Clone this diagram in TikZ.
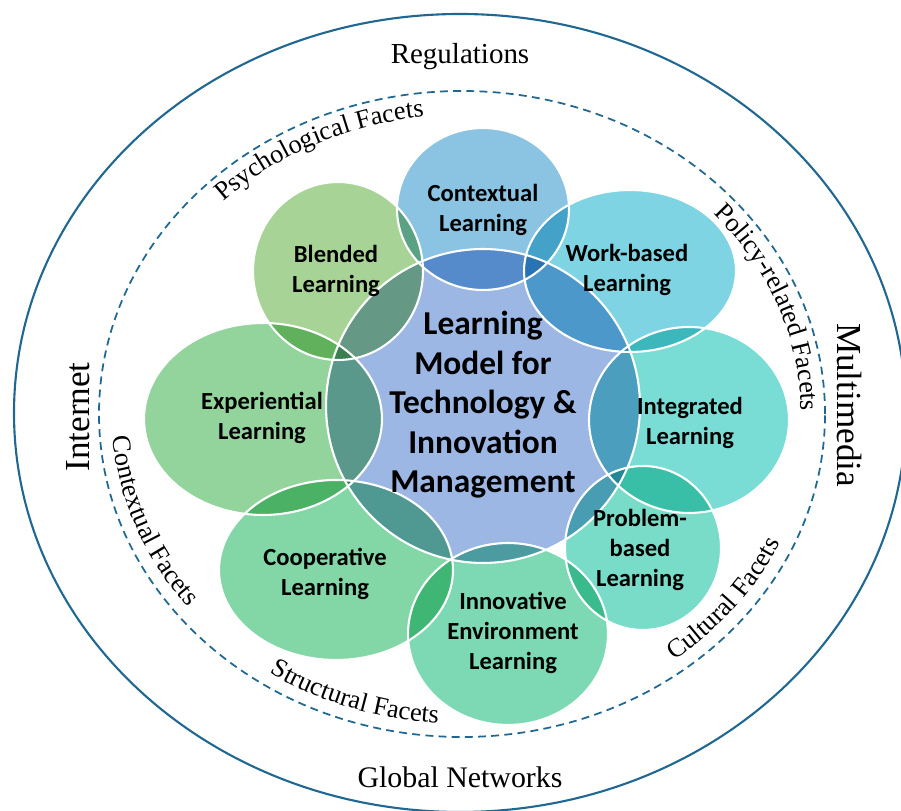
\documentclass[tikz,border=0pt]{standalone}
\usepackage{fontspec}
\setmainfont{Liberation Serif}
\newfontfamily\petalfont{Carlito}
\usepackage{tikz}
\usetikzlibrary{shapes.geometric,calc,decorations.text}

\definecolor{ringblue}{RGB}{32,104,146}
\definecolor{corecol}{RGB}{157,183,228}
\definecolor{contextcol}{RGB}{139,195,226}
\definecolor{workcol}{RGB}{126,212,226}
\definecolor{integcol}{RGB}{122,221,213}
\definecolor{problemcol}{RGB}{120,220,200}
\definecolor{innovcol}{RGB}{124,217,180}
\definecolor{coopcol}{RGB}{131,214,165}
\definecolor{expercol}{RGB}{147,212,157}
\definecolor{blendcol}{RGB}{167,212,150}

\newcommand\facetfont{\fontsize{15}{18}\selectfont}

\begin{document}
\begin{tikzpicture}[x=0.02cm, y=0.02cm,
    facet/.style={decorate, decoration={text along path, text={|\facetfont|#1}, text align=center}}]
    \tikzstyle{petal}=[ellipse, inner sep=0pt, outer sep=0pt, draw=none]
    \tikzstyle{ring}=[draw=white, line width=1.2pt]
    \tikzstyle{petaltext}=[font=\petalfont\bfseries\fontsize{14}{17}\selectfont, align=center]
    \tikzstyle{coretext}=[font=\petalfont\bfseries\fontsize{19}{22.5}\selectfont, align=center]

    \useasboundingbox (0,0) rectangle (901,810);
    \clip (0,0) rectangle (901,810);

    % outer ring and facet ring
    \coordinate (mid) at (462,396);
    \draw[ringblue, line width=1.2pt] (460,397) ellipse [x radius=446, y radius=399];
    \draw[ringblue, line width=1pt, dash pattern=on 4.5pt off 3pt] (mid) ellipse [x radius=363, y radius=323];

    \node[font=\fontsize{16.5}{20}\selectfont] (regulations) at (460,753) {Regulations};
    \node[font=\fontsize{17}{20}\selectfont] (global) at (460,33) {Global Networks};
    \node[font=\fontsize{20}{24}\selectfont, rotate=90] (internet) at (78,393) {Internet};
    \node[font=\fontsize{20}{24}\selectfont, rotate=-90] (multimedia) at (850,405) {Multimedia};

    % facets
    \path[facet=Psychological Facets] (mid) ++(146:339 and 299) arc [start angle=146, end angle=86, x radius=339, y radius=299];
    \path[facet=Policy-related Facets] (mid) ++(51:339 and 299) arc [start angle=51, end angle=-9, x radius=339, y radius=299];
    \path[facet=Contextual Facets] (mid) ++(171:350 and 310) arc [start angle=171, end angle=231, x radius=350, y radius=310];
    \path[facet=Structural Facets] (mid) ++(221:350 and 310) arc [start angle=221, end angle=281, x radius=350, y radius=310];
    \path[facet=Cultural Facets] (mid) ++(292:350 and 310) arc [start angle=292, end angle=352, x radius=350, y radius=310];

    % petals
    \begin{scope}[blend mode=multiply]
    \node[petal, fill=corecol, minimum width=6.28cm, minimum height=6.28cm] (core) at (483,404) {};
    \node[petal, fill=contextcol, minimum width=3.44cm, minimum height=3.24cm] (contextual) at (483,601) {};
    \node[petal, fill=blendcol, minimum width=3.40cm, minimum height=3.56cm] (blended) at (338,539) {};
    \node[petal, fill=workcol, minimum width=4.24cm, minimum height=3.24cm] (workbased) at (630,539) {};
    \node[petal, fill=expercol, minimum width=4.76cm, minimum height=3.84cm] (experiential) at (263,391) {};
    \node[petal, fill=integcol, minimum width=4.00cm, minimum height=3.72cm] (integrated) at (689,390) {};
    \node[petal, fill=problemcol, minimum width=3.12cm, minimum height=3.28cm] (problem) at (643,262) {};
    \node[petal, fill=coopcol, minimum width=4.68cm, minimum height=3.60cm] (cooperative) at (336,240) {};
    \node[petal, fill=innovcol, minimum width=4.00cm, minimum height=3.64cm] (innovative) at (508,176) {};
    \end{scope}

    % white rims
    \foreach \petal in {core,contextual,blended,workbased,experiential,integrated,problem,cooperative,innovative}
        \draw[ring] let \p1=(\petal.east), \p2=(\petal.north), \p3=(\petal.center) in (\p3) ellipse ({\x1-\x3} and {\y2-\y3});

    % labels
    \node[coretext] (core-t) at (483,405) {Learning\\Model for\\Technology \&\\Innovation\\Management};
    \node[petaltext] (contextual-t) at (483,600) {Contextual\\Learning};
    \node[petaltext] (blended-t) at (336,539) {Blended\\Learning};
    \node[petaltext] (workbased-t) at (627,540) {Work-based\\Learning};
    \node[petaltext] (experiential-t) at (262,392) {Experiential\\Learning};
    \node[petaltext] (integrated-t) at (690,387) {Integrated\\Learning};
    \node[petaltext] (problem-t) at (640,260) {Problem-\\based\\Learning};
    \node[petaltext] (cooperative-t) at (325,236) {Cooperative\\Learning};
    \node[petaltext] (innovative-t) at (513,177) {Innovative\\Environment\\Learning};
\end{tikzpicture}
\end{document}
